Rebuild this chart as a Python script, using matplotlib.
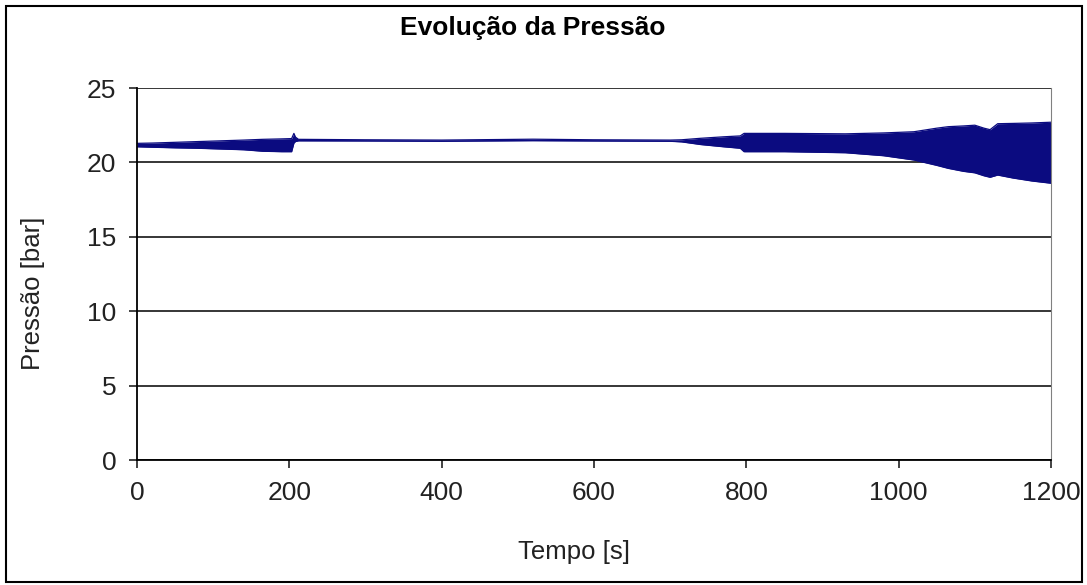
import matplotlib.pyplot as plt
from matplotlib.patches import Rectangle

# envelope of the pressure signal
tempo = [0, 20, 50, 80, 110, 140, 165, 190, 203, 206, 208, 212, 300, 400, 520,
         600, 700, 715, 740, 770, 792, 797, 850, 930, 980, 1020, 1050, 1065,
         1085, 1100, 1112, 1120, 1130, 1150, 1175, 1200]
p_max = [21.28, 21.3, 21.35, 21.4, 21.45, 21.5, 21.55, 21.58, 21.6, 21.95, 21.7,
         21.55, 21.52, 21.5, 21.56, 21.52, 21.5, 21.52, 21.62, 21.72, 21.78, 21.95,
         21.95, 21.92, 21.98, 22.06, 22.3, 22.4, 22.45, 22.5, 22.3, 22.2, 22.6,
         22.62, 22.65, 22.7]
p_min = [21.05, 21.02, 20.98, 20.95, 20.9, 20.85, 20.75, 20.72, 20.72, 21.3, 21.4,
         21.45, 21.44, 21.42, 21.46, 21.44, 21.42, 21.38, 21.2, 21.05, 20.95, 20.72,
         20.72, 20.65, 20.45, 20.16, 19.8, 19.6, 19.4, 19.3, 19.1, 19.0, 19.15,
         18.95, 18.75, 18.6]

x_ticks = [0, 200, 400, 600, 800, 1000, 1200]
y_ticks = [0, 5, 10, 15, 20, 25]

navy = '#0b0b80'
plt.rcParams['font.family'] = ['Liberation Sans', 'DejaVu Sans']

fig = plt.figure(figsize=(10.87, 5.85), dpi=100)
ax = fig.add_axes([137/1087, 1 - 460/585, (1051 - 137)/1087, (460 - 88)/585])

ax.fill_between(tempo, p_min, p_max, color=navy, lw=0)
ax.plot(tempo, p_max, color=navy, lw=0.9)
ax.plot(tempo, p_min, color=navy, lw=0.9)

ax.set_xlim(0, 1200)
ax.set_ylim(0, 25)
ax.set_xticks(x_ticks)
ax.set_yticks(y_ticks)
ax.tick_params(direction='out', length=6, width=1.2, labelsize=19, pad=9, colors='#222222')
ax.yaxis.grid(True, color='black', lw=1.1)
ax.set_axisbelow(True)

ax.spines['top'].set_visible(False)
ax.spines['right'].set_color('#808080')
ax.spines['left'].set_linewidth(1.3)
ax.spines['bottom'].set_linewidth(1.3)

fig.text(533/1087, 1 - 28/585, 'Evolução da Pressão', ha='center', va='center',
         fontsize=19, fontweight='bold')
fig.text(574/1087, 1 - 552/585, 'Tempo [s]', ha='center', va='center', fontsize=18.5,
         color='#222222')
fig.text(33/1087, 1 - 293/585, 'Pressão [bar]', ha='center', va='center', fontsize=18.5,
         rotation=90, color='#222222')

# outer chart frame
fig.patches.append(Rectangle((6/1087, 3/585), 1076/1087, 576/585, transform=fig.transFigure,
                             fill=False, edgecolor='black', lw=1.5))

fig.savefig('out.png', dpi=100)
